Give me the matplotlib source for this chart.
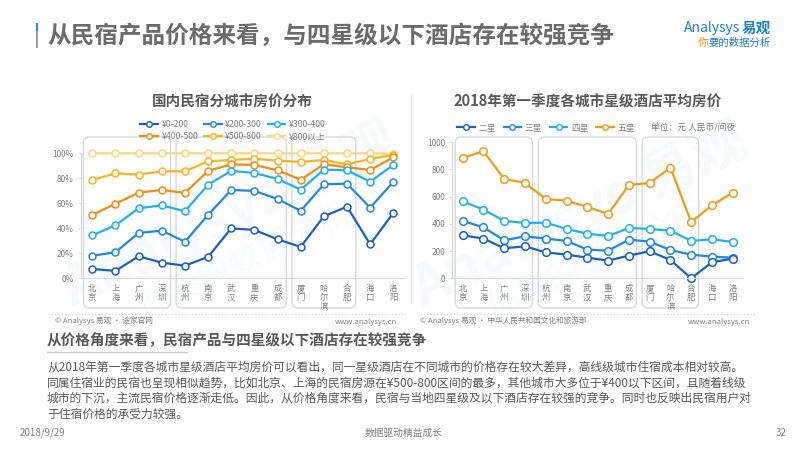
import matplotlib.pyplot as plt
from matplotlib.patches import FancyBboxPatch, Rectangle
from matplotlib.lines import Line2D
from matplotlib.transforms import IdentityTransform

plt.rcParams['font.family'] = ['Noto Sans CJK SC', 'DejaVu Sans']

# ---- data ----
cities = ['北京', '上海', '广州', '深圳', '杭州', '南京', '武汉', '重庆', '成都',
          '厦门', '哈尔滨', '合肥', '海口', '洛阳']

# share of listings below each price level (%)
bnb_labels = ['¥0-200', '¥200-300', '¥300-400', '¥400-500', '¥500-800', '¥800以上']
p0_200 = [7.5, 5.9, 17.6, 12.5, 10.1, 17.1, 40.0, 38.7, 31.2, 25.1, 49.6, 57.3, 27.2, 52.3]
p200_300 = [18.1, 20.8, 36.3, 38.1, 29.3, 50.7, 70.7, 69.9, 63.5, 53.9, 75.2, 75.7, 56.5, 77.1]
p300_400 = [34.4, 42.4, 56.0, 58.4, 53.6, 74.9, 85.9, 84.3, 79.5, 70.9, 86.9, 86.4, 77.3, 90.7]
p400_500 = [50.7, 59.7, 68.5, 70.7, 68.3, 85.9, 91.2, 90.7, 86.4, 78.9, 91.2, 88.8, 86.7, 96.8]
p500_800 = [78.7, 84.0, 82.9, 85.6, 85.6, 93.6, 94.7, 95.7, 94.1, 93.1, 94.7, 91.2, 95.5, 98.7]
p800_up = [100, 100, 100, 100, 100, 100, 100, 100, 100, 100, 100, 100, 100, 99.5]

# hotel average price, yuan / night
hotel_labels = ['二星', '三星', '四星', '五星']
star2 = [316, 292, 221, 235, 191, 174, 152, 130, 167, 199, 135, 0, 118, 145]
star3 = [422, 375, 279, 309, 292, 275, 211, 203, 284, 270, 208, 174, 159, 152]
star4 = [566, 505, 422, 407, 409, 363, 328, 311, 370, 363, 350, 275, 287, 267]
star5 = [885, 934, 730, 701, 583, 571, 525, 473, 686, 701, 814, 414, 537, 630]

# city groups (first, last index) framed by rounded boxes
groups = [(0, 3), (4, 8), (9, 11)]

bnb_colors = ['#1a5fc2', '#1e88e5', '#1fb0f2', '#f28c0f', '#fbb41e', '#fdd77e']
hotel_colors = ['#1a5fc2', '#1e88e5', '#1fb0f2', '#f39a17']

GRAY = '#7f7f7f'
LIGHT = '#d9d9d9'

W, H = 800, 450
fig = plt.figure(figsize=(8, 4.5), dpi=100)


def fx(px):
    return px / W


def fy(py):
    return 1 - py / H


def px_axes(x0, y0, x1, y1):
    ax = fig.add_axes([fx(x0), fy(y1), (x1 - x0) / W, (y1 - y0) / H])
    ax.set_facecolor('none')
    for s in ['top', 'right']:
        ax.spines[s].set_visible(False)
    for s in ['left', 'bottom']:
        ax.spines[s].set_color(LIGHT)
        ax.spines[s].set_linewidth(0.8)
    ax.tick_params(axis='y', colors=LIGHT, labelcolor=GRAY, labelsize=6, length=2, pad=3)
    ax.tick_params(axis='x', length=0, labelcolor=GRAY, labelsize=6, pad=4)
    ax.set_xlim(-0.5, len(cities) - 0.5)
    ax.set_xticks(range(len(cities)))
    ax.set_xticklabels(['\n'.join(c) for c in cities], linespacing=1.05)
    return ax


def draw_lines(ax, series, colors, ms):
    for vals, c in zip(series, colors):
        ax.plot(range(len(vals)), vals, color=c, lw=1.6, marker='o', ms=ms,
                mfc='white', mec=c, mew=1.1, clip_on=False)


def draw_boxes(ax, top, bottom, pad):
    for a, b in groups:
        x0 = ax.transData.transform((a - pad, 0))[0]
        x1 = ax.transData.transform((b + pad, 0))[0]
        box = FancyBboxPatch((x0, H - bottom), x1 - x0, bottom - top,
                             boxstyle='round,pad=0,rounding_size=6',
                             transform=IdentityTransform(), fc='none',
                             ec=LIGHT, lw=1.0, zorder=-1)
        fig.add_artist(box)


def handles(colors):
    return [Line2D([], [], color=c, lw=1.6, marker='o', ms=4, mfc='white', mec=c, mew=1.0)
            for c in colors]


# ---- left chart ----
ax1 = px_axes(80.7, 153.3, 404.9, 278.3)
ax1.set_ylim(0, 100)
ax1.set_yticks(range(0, 101, 20))
ax1.set_yticklabels([f'{v}%' for v in range(0, 101, 20)])
draw_lines(ax1, [p800_up, p500_800, p400_500, p300_400, p200_300, p0_200],
           bnb_colors[::-1], 5)
draw_boxes(ax1, 137, 308, 0.38)

fig.text(fx(232), fy(102), '国内民宿分城市房价分布', ha='center', va='center',
         fontsize=10.5, fontweight='bold', color='#595959')
# legend fills column by column, so reorder to read row by row
order = [0, 3, 1, 4, 2, 5]
h1 = handles(bnb_colors)
leg1 = fig.legend([h1[i] for i in order], [bnb_labels[i] for i in order], loc='center',
                  bbox_to_anchor=(fx(233), fy(130.5)), ncol=3, frameon=False,
                  fontsize=6.3, handlelength=2.0, columnspacing=0.7,
                  handletextpad=0.4, labelspacing=0.35)
for t in leg1.get_texts():
    t.set_color(GRAY)

# ---- right chart ----
ax2 = px_axes(452.3, 142.3, 743.1, 278.3)
ax2.set_ylim(0, 1000)
ax2.set_yticks(range(0, 1001, 200))
draw_lines(ax2, [star5, star4, star3, star2], hotel_colors[::-1], 5.5)
draw_boxes(ax2, 137, 308, 0.36)

fig.text(fx(588), fy(101), '2018年第一季度各城市星级酒店平均房价', ha='center',
         va='center', fontsize=10.5, fontweight='bold', color='#595959')
leg2 = fig.legend(handles(hotel_colors), hotel_labels, loc='center',
                  bbox_to_anchor=(fx(546), fy(128)), ncol=4, frameon=False,
                  fontsize=6.3, handlelength=2.0, columnspacing=0.9,
                  handletextpad=0.4)
for t in leg2.get_texts():
    t.set_color(GRAY)
fig.text(fx(651), fy(128), '单位：元 人民币/间夜', ha='left', va='center',
         fontsize=6.3, color=GRAY)

# separator between the two charts
fig.add_artist(Line2D([fx(411), fx(411)], [fy(95), fy(303)], color='#e3e3e3', lw=1.0))

# sources under charts
for x0, x1 in [(48, 405), (420, 755)]:
    fig.add_artist(Line2D([fx(x0), fx(x1)], [fy(314), fy(314)], color='#c8c8c8',
                          lw=0.8, ls=(0, (1, 2))))
fig.text(fx(55), fy(321), '© Analysys 易观 · 途家官网', fontsize=5.5, color=GRAY, va='center')
fig.text(fx(397), fy(322), 'www.analysys.cn', fontsize=5.5, color=GRAY, va='center', ha='right')
fig.text(fx(420), fy(321), '© Analysys 易观 · 中华人民共和国文化和旅游部', fontsize=5.5,
         color=GRAY, va='center')
fig.text(fx(750), fy(322), 'www.analysys.cn', fontsize=5.5, color=GRAY, va='center', ha='right')

# faint watermark
for x, y in [(230, 215), (580, 215)]:
    fig.text(fx(x), fy(y), 'Analysys 易观', fontsize=40, fontweight='bold', color='#4aa8e8',
             alpha=0.05, rotation=25, ha='center', va='center', zorder=-2)
    fig.text(fx(x + 15), fy(y + 45), '你要的数据分析', fontsize=24, color='#4aa8e8',
             alpha=0.045, rotation=25, ha='center', va='center', zorder=-2)

# ---- header ----
fig.add_artist(Rectangle((fx(36), fy(31)), 2 / W, 8 / H, color='#1e90e0', lw=0))
fig.add_artist(Rectangle((fx(36), fy(48)), 2 / W, 17 / H, color='#a0a0a0', lw=0))
fig.text(fx(47), fy(36), '从民宿产品价格来看，与四星级以下酒店存在较强竞争', ha='left',
         va='center', fontsize=17, fontweight='bold', color='#6b6b6b')
fig.text(fx(684), fy(28), 'Analysys', ha='left', va='center', fontsize=10,
         color='#1a7fd4', style='italic')
fig.text(fx(742), fy(28), '易观', ha='left', va='center', fontsize=10.5,
         fontweight='bold', color='#1a7fd4')
fig.text(fx(698), fy(43), '你', ha='left', va='center', fontsize=8, color='#f28c0f',
         style='italic')
fig.text(fx(708), fy(43), '要的数据分析', ha='left', va='center', fontsize=7.5,
         color='#1a7fd4', style='italic')

# ---- commentary ----
fig.text(fx(47), fy(340), '从价格角度来看，民宿产品与四星级以下酒店存在较强竞争', ha='left',
         va='center', fontsize=10.5, fontweight='bold', color='#595959')
fig.add_artist(Line2D([fx(47), fx(187)], [fy(352), fy(352)], color='#d0d0d0', lw=1.0))
body = ['从2018年第一季度各城市星级酒店平均房价可以看出，同一星级酒店在不同城市的价格存在较大差异，高线级城市住宿成本相对较高。',
        '同属住宿业的民宿也呈现相似趋势，比如北京、上海的民宿房源在¥500-800区间的最多，其他城市大多位于¥400以下区间，且随着线级',
        '城市的下沉，主流民宿价格逐渐走低。因此，从价格角度来看，民宿与当地四星级及以下酒店存在较强的竞争。同时也反映出民宿用户对',
        '于住宿价格的承受力较强。']
for i, line in enumerate(body):
    fig.text(fx(47), fy(367 + i * 15.7), line, ha='left', va='center', fontsize=8.5,
             color='#595959')

fig.text(fx(20), fy(433), '2018/9/29', fontsize=7, color=GRAY, va='center')
fig.text(fx(404), fy(433), '数据驱动精益成长', fontsize=7, color=GRAY, va='center', ha='center')
fig.text(fx(787), fy(433), '32', fontsize=7, color=GRAY, va='center', ha='right')

fig.savefig('out.png', dpi=100)
